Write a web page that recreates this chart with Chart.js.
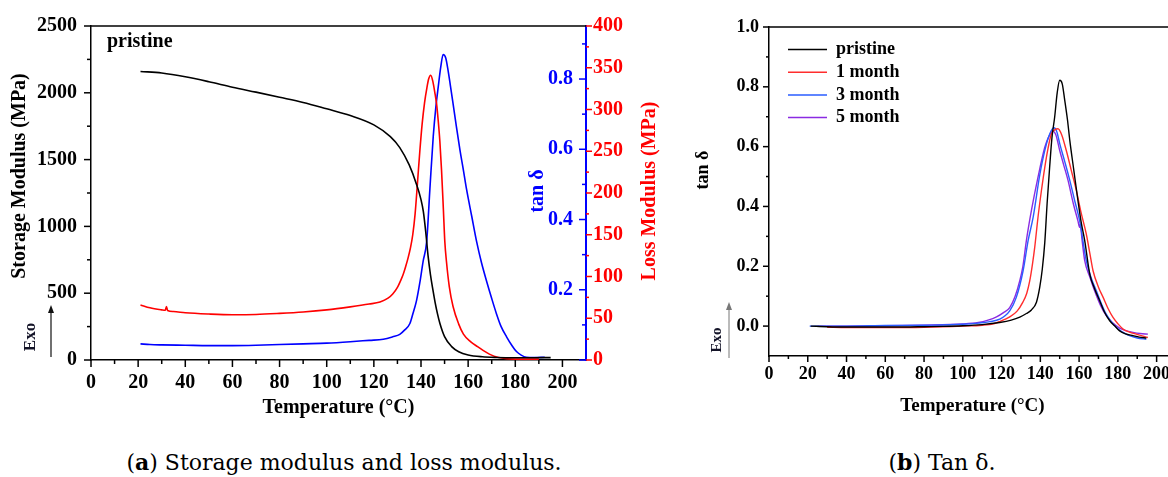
<!DOCTYPE html>
<html><head><meta charset="utf-8">
<script src="https://cdn.jsdelivr.net/npm/chart.js@4.4.1/dist/chart.umd.min.js"></script>
<style>
html,body{margin:0;padding:0;background:#fff;overflow:hidden;width:1168px;height:477px;}
#wrap{position:relative;width:1168px;height:477px;overflow:hidden;}
#ca{position:absolute;left:0;top:0;}
#cb{position:absolute;left:680px;top:0;}
.cap{position:absolute;top:447px;font-family:"DejaVu Serif",serif;font-size:22px;color:#000;white-space:nowrap;transform:translateX(-50%);line-height:30px;}
</style></head><body>
<div id="wrap">
<canvas id="ca" width="680" height="430"></canvas>
<canvas id="cb" width="500" height="430"></canvas>
<div class="cap" style="left:344px">(<b>a</b>) Storage modulus and loss modulus.</div>
<div class="cap" style="left:942px">(<b>b</b>) Tan δ.</div>
</div>
<script>
// ---------- Panel (a) data ----------
const storageT = [21,30,40,50,60,70,80,90,100,110,120,127,131,135,138,140,141,142,143,144,145,146,147,148,150,153,156,160,166,172,180,188,195];
const storageV = [2160,2148,2120,2083,2042,2005,1967,1928,1880,1830,1760,1672,1590,1460,1320,1200,1110,960,780,640,530,430,345,275,175,100,62,38,24,19,17,17,18];

const lossT = [21,25,30,31.5,32,32.5,35,40,50,60,70,80,90,100,110,118,122.6,126,128,130,131.5,132.5,133.5,134.5,135.5,136.5,137.5,138.5,139.5,140.5,141.5,142.5,143.3,144.1,145,146,146.6,147,148,148.7,149.5,150.1,150.8,152,153.6,156,158,161,164,169,173,180,190];
const lossV = [66,62.5,60,59.5,64,59.3,58,56.5,55,54.2,54.5,55.8,57.5,60,63.6,67,69.5,74,79,87,96,103,112,122,134,150,175,212,250,283,308,326,337,341,334,318,307,296,262,228,180,142,118,88,64,43,31,22,16,7,3,1,1];

const tanT = [21,25,30,40,50,60,70,80,90,100,110,118,124,128,131,133,135.3,136.5,138.1,139.5,140.9,142.4,143.8,145.2,146.3,147.3,148.4,149.4,150.5,151.5,152.5,153.6,155,156.5,158,159.3,161.5,163.6,165.7,167.8,170,172,174,176.3,178.5,180.5,182.5,184.7,188,192.5];
const tanV = [0.046,0.044,0.043,0.042,0.041,0.041,0.042,0.044,0.046,0.048,0.052,0.056,0.059,0.066,0.073,0.085,0.104,0.13,0.169,0.22,0.281,0.337,0.49,0.637,0.72,0.777,0.835,0.870,0.86,0.824,0.78,0.730,0.665,0.599,0.54,0.487,0.41,0.337,0.276,0.225,0.175,0.132,0.095,0.066,0.042,0.024,0.014,0.008,0.007,0.008];

// ---------- Panel (b) data ----------
const seriesNamesB = ['pristine','1 month','3 month','5 month'];
const pristineT = [21.5,30,40,50,60,70,80,90,100,110,119,125,129.4,132.8,135.4,138,139.7,141,142.3,143.5,144.8,146,147.4,148.7,150,151.3,152.6,154,155.2,157.3,159.4,161,162.9,165.5,168,170.6,173,175.8,178.5,180.9,184,187.8,191,194.7];
const pristineV = [0,-0.002,-0.003,-0.003,-0.003,-0.003,-0.002,-0.001,0.001,0.005,0.012,0.02,0.03,0.042,0.054,0.08,0.13,0.19,0.28,0.41,0.531,0.63,0.699,0.78,0.822,0.81,0.755,0.69,0.621,0.52,0.42,0.35,0.286,0.174,0.125,0.085,0.048,0.018,0.0,-0.016,-0.026,-0.032,-0.037,-0.040];
const month1T = [30,40,60,80,100,110,116,119,124,128,131,133,134.5,136,137.1,138.8,140.5,142.3,144,145.7,147.4,149.1,151,153.4,156,158.6,161,163.7,165.5,167.2,170,172.4,175,177.5,180,182.7,186,189.5,195.5];
const month1V = [-0.004,-0.005,-0.005,-0.004,0.0,0.003,0.008,0.015,0.03,0.05,0.08,0.11,0.15,0.21,0.263,0.364,0.45,0.531,0.595,0.643,0.656,0.66,0.64,0.587,0.52,0.453,0.38,0.308,0.245,0.185,0.13,0.096,0.058,0.029,0.008,-0.01,-0.02,-0.027,-0.038];
const month3T = [21,40,60,80,100,108,114,119,124.2,127.6,131.1,133.7,136.3,139.8,143.2,145,147,148.5,150,152.6,155.2,157.7,160.3,163.7,166.3,168.9,171.5,174,176.6,179.2,182.5,186,190,194.7];
const month3V = [0,0.0,0.002,0.003,0.006,0.01,0.015,0.023,0.051,0.096,0.185,0.286,0.364,0.509,0.61,0.645,0.663,0.65,0.61,0.55,0.487,0.42,0.352,0.219,0.16,0.118,0.075,0.04,0.015,-0.005,-0.02,-0.032,-0.04,-0.044];
const month5T = [25,40,60,80,100,108,113,117.4,121,124.2,127,129.4,131,132.8,135.5,138.8,142.3,144.5,146.3,148,150,152,154.3,157,159.4,160.3,160.6,161.5,162.9,165.5,168,171,174,177.5,180.9,184,187.8,191.5,195.5];
const month5V = [0,0.0,0.001,0.003,0.007,0.012,0.02,0.031,0.045,0.062,0.1,0.152,0.2,0.286,0.39,0.498,0.598,0.635,0.652,0.64,0.587,0.54,0.487,0.41,0.352,0.33,0.34,0.29,0.219,0.165,0.118,0.07,0.035,0.01,-0.007,-0.015,-0.021,-0.025,-0.027];

const xTicksA = {min:0, max:210, step:20};
const colorsB = ['#000000','#ff2d2d','#2a5cff','#8a2be2'];

const FONT = '"Liberation Serif","Times New Roman",serif';
const pts = (xs, ys) => xs.map((x,i)=>({x, y: ys[i]}));

// ---------- decoration plugin (ticks, frame, texts, arrows, legend) ----------
const decor = {
  id: 'decor',
  afterDraw(chart, args, o) {
    const ctx = chart.ctx, ca = chart.chartArea;
    ctx.save();
    if (o.topFrame) {
      ctx.strokeStyle = '#000'; ctx.lineWidth = 1.5;
      ctx.beginPath(); ctx.moveTo(ca.left, ca.top); ctx.lineTo(ca.right, ca.top); ctx.stroke();
    }
    (o.ticks || []).forEach(t => {
      const s = chart.scales[t.id];
      const majors = s.ticks.map(k => k.value);
      const step = majors[1] - majors[0];
      const minors = [];
      for (let k = -1; k <= majors.length + 1; k++) {
        const v = majors[0] + step / 2 + k * step;
        if (v > s.min + 1e-9 && v < s.max - 1e-9) minors.push(v);
      }
      ctx.strokeStyle = t.color; ctx.lineWidth = t.width || 1.5;
      const draw = (v, len) => {
        const p = s.getPixelForValue(v);
        ctx.beginPath();
        if (t.side === 'bottom') { ctx.moveTo(p, ca.bottom); ctx.lineTo(p, ca.bottom + len); }
        else if (t.side === 'left') { ctx.moveTo(ca.left, p); ctx.lineTo(ca.left - len, p); }
        else if (t.side === 'right') { ctx.moveTo(ca.right, p); ctx.lineTo(ca.right + len, p); }
        else if (t.side === 'rightIn') { ctx.moveTo(ca.right, p); ctx.lineTo(ca.right - len, p); }
        ctx.stroke();
      };
      majors.forEach(v => draw(v, t.major));
      minors.forEach(v => draw(v, t.minor));
    });
    (o.arrows || []).forEach(a => {
      ctx.strokeStyle = a.color; ctx.fillStyle = a.color; ctx.lineWidth = a.width || 1;
      ctx.beginPath(); ctx.moveTo(a.x, a.y0); ctx.lineTo(a.x, a.y1 + 6); ctx.stroke();
      ctx.beginPath(); ctx.moveTo(a.x, a.y1); ctx.lineTo(a.x - 3, a.y1 + 8); ctx.lineTo(a.x + 3, a.y1 + 8); ctx.closePath(); ctx.fill();
    });
    (o.texts || []).forEach(t => {
      ctx.save();
      ctx.font = `${t.weight || 'bold'} ${t.size}px ${FONT}`;
      ctx.fillStyle = t.color || '#000';
      ctx.textAlign = t.align || 'center';
      ctx.textBaseline = 'middle';
      ctx.translate(t.x, t.y);
      if (t.rot) ctx.rotate(t.rot * Math.PI / 180);
      ctx.fillText(t.text, 0, 0);
      ctx.restore();
    });
    if (o.legend) {
      const L = o.legend;
      chart.data.datasets.forEach((d, i) => {
        const y = L.y0 + i * L.dy;
        ctx.strokeStyle = d.borderColor; ctx.lineWidth = 1.5;
        ctx.beginPath(); ctx.moveTo(L.x0, y); ctx.lineTo(L.x1, y); ctx.stroke();
        ctx.font = `bold ${L.size}px ${FONT}`;
        ctx.fillStyle = '#000'; ctx.textAlign = 'left'; ctx.textBaseline = 'middle';
        ctx.fillText(d.label, L.tx, y);
      });
    }
    ctx.restore();
  }
};

const tickFont = (sz) => ({family: FONT, size: sz, weight: 'bold'});
const lineDs = (label, data, color, axis, w) => ({
  label, data, borderColor: color, backgroundColor: color, borderWidth: w,
  pointRadius: 0, cubicInterpolationMode: 'monotone', yAxisID: axis, fill: false
});

// ---------- Chart (a) ----------
new Chart(document.getElementById('ca'), {
  type: 'line',
  data: { datasets: [
    lineDs('Storage Modulus', pts(storageT, storageV), '#000000', 'y', 1.6),
    lineDs('Loss Modulus', pts(lossT, lossV), '#ff0000', 'yLoss', 1.6),
    lineDs('tan δ', pts(tanT, tanV), '#0000ff', 'yTan', 1.6)
  ]},
  options: {
    responsive: false, animation: false, devicePixelRatio: 1,
    layout: { padding: { top: 21, left: 0, right: 0, bottom: 0 } },
    plugins: {
      legend: { display: false }, tooltip: { enabled: false },
      decor: {
        topFrame: true,
        ticks: [
          {id: 'x', side: 'bottom', color: '#000', major: 7, minor: 4},
          {id: 'y', side: 'left', color: '#000', major: 7, minor: 4},
          {id: 'yTan', side: 'rightIn', color: '#0000ff', major: 7, minor: 4},
          {id: 'yLoss', side: 'right', color: '#ff0000', major: 6, minor: 3}
        ],
        texts: [
          {text: 'Storage Modulus (MPa)', x: 20, y: 176, rot: -90, size: 20},
          {text: 'tan δ', x: 538, y: 191, rot: -90, size: 20, color: '#0000ff'},
          {text: 'Loss Modulus (MPa)', x: 650, y: 191, rot: -90, size: 20, color: '#ff0000'},
          {text: 'pristine', x: 107, y: 42, size: 20, align: 'left'},
          {text: 'Exo', x: 31, y: 337, rot: -90, size: 17, color: '#141428'}
        ],
        arrows: [{x: 51, y0: 357, y1: 305, color: '#111', width: 1.2}]
      }
    },
    scales: {
      x: {
        type: 'linear', position: 'bottom', min: xTicksA.min, max: xTicksA.max,
        afterFit: s => { s.height = 70; },
        ticks: { stepSize: xTicksA.step, includeBounds: false, autoSkip: false, maxRotation: 0,
                 font: tickFont(20), color: '#000', padding: 11, callback: v => String(v) },
        grid: { display: false, drawTicks: false },
        border: { display: true, color: '#000', width: 1.5 },
        title: { display: true, text: 'Temperature (°C)', font: tickFont(20), color: '#000', padding: {top: 0, bottom: 10} }
      },
      y: {
        position: 'left', min: 0, max: 2500,
        afterFit: s => { s.width = 91; },
        ticks: { stepSize: 500, font: tickFont(20), color: '#000', padding: 14, callback: v => String(v) },
        grid: { display: false, drawTicks: false },
        border: { display: true, color: '#000', width: 1.5 }
      },
      yTan: {
        position: 'right', min: 0, max: 0.951, weight: 0,
        afterFit: s => { s.width = 0; },
        ticks: { stepSize: 0.2, includeBounds: false, mirror: true, font: tickFont(20), color: '#0000ff', padding: -13,
                 callback: v => (Math.abs(v) < 1e-9 ? '' : v.toFixed(1)) },
        grid: { display: false, drawTicks: false },
        border: { display: true, color: '#0000ff', width: 2 }
      },
      yLoss: {
        position: 'right', min: 0, max: 400, weight: 1,
        afterFit: s => { s.width = 94; },
        ticks: { stepSize: 50, font: tickFont(20), color: '#ff0000', padding: 7, callback: v => String(v) },
        grid: { display: false, drawTicks: false },
        border: { display: false }
      }
    }
  },
  plugins: [decor]
});

// ---------- Chart (b) ----------
const seriesB = [[pristineT, pristineV], [month1T, month1V], [month3T, month3V], [month5T, month5V]];
new Chart(document.getElementById('cb'), {
  type: 'line',
  data: { datasets: seriesB.map((s, i) => lineDs(seriesNamesB[i], pts(s[0], s[1]), colorsB[i], 'y', 1.4)) },
  options: {
    responsive: false, animation: false, devicePixelRatio: 1,
    layout: { padding: { top: 27, left: 0, right: 4, bottom: 0 } },
    plugins: {
      legend: { display: false }, tooltip: { enabled: false },
      decor: {
        topFrame: true,
        ticks: [
          {id: 'x', side: 'bottom', color: '#000', major: 6, minor: 3},
          {id: 'y', side: 'left', color: '#000', major: 6, minor: 3}
        ],
        texts: [
          {text: 'tan δ', x: 23, y: 170, rot: -90, size: 18},
          {text: 'Exo', x: 37, y: 340, rot: -90, size: 15, color: '#141428'}
        ],
        arrows: [{x: 49, y0: 358, y1: 302, color: '#777', width: 1}],
        legend: {x0: 108, x1: 147, tx: 156, y0: 49.5, dy: 22.7, size: 18}
      }
    },
    scales: {
      x: {
        type: 'linear', position: 'bottom', min: xTicksA.min, max: xTicksA.max,
        afterFit: s => { s.height = 74; },
        ticks: { stepSize: xTicksA.step, includeBounds: false, autoSkip: false, maxRotation: 0,
                 font: tickFont(18), color: '#000', padding: 8, callback: v => String(v) },
        grid: { display: false, drawTicks: false },
        border: { display: true, color: '#000', width: 1.5 },
        title: { display: true, text: 'Temperature (°C)', font: tickFont(19), color: '#000', padding: {top: 0, bottom: 13} }
      },
      y: {
        position: 'left', min: -0.1, max: 1.0,
        afterFit: s => { s.width = 89; },
        ticks: { stepSize: 0.2, includeBounds: false, font: tickFont(18), color: '#000', padding: 10,
                 callback: v => v.toFixed(1) },
        grid: { display: false, drawTicks: false },
        border: { display: true, color: '#000', width: 1.5 }
      }
    }
  },
  plugins: [decor]
});
</script>
</body></html>
